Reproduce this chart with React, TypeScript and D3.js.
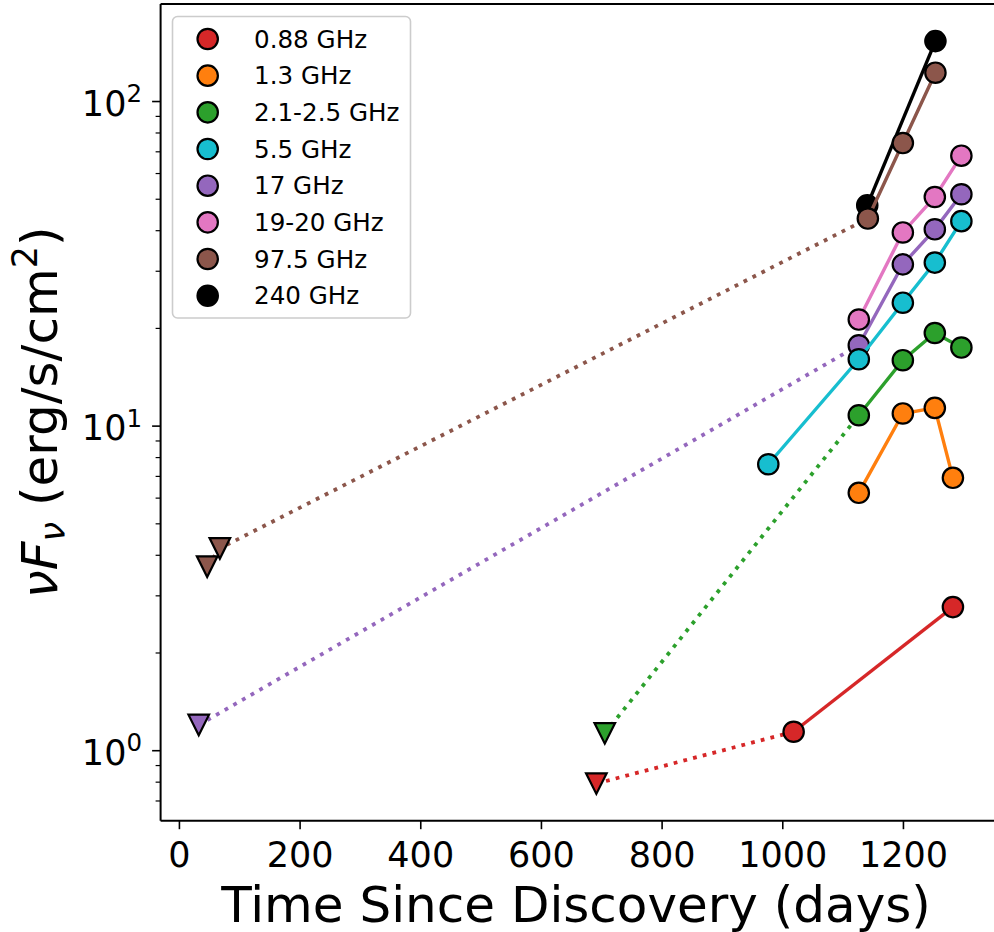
import React from "react";
import * as d3 from "d3";

// ---- data ----
const seriesNames = ["0.88 GHz", "1.3 GHz", "2.1-2.5 GHz", "5.5 GHz", "17 GHz", "19-20 GHz", "97.5 GHz", "240 GHz"];
const seriesColors = ["#d62728", "#ff7f0e", "#2ca02c", "#17becf", "#9467bd", "#e377c2", "#8c564b", "#000000"];

// detections (days, nuFnu)
const redDays = [1018, 1282];
const redVals = [1.144, 2.77];
const orangeDays = [1126, 1199, 1252, 1282];
const orangeVals = [6.23, 10.94, 11.38, 6.93];
const greenDays = [1126, 1199, 1252, 1296];
const greenVals = [10.8, 15.96, 19.36, 17.46];
const cyanDays = [976, 1126, 1199, 1252, 1296];
const cyanVals = [7.63, 16.07, 24.0, 31.9, 42.8];
const purpleDays = [1126, 1199, 1252, 1296];
const purpleVals = [17.75, 31.5, 40.4, 51.8];
const pinkDays = [1126, 1199, 1252, 1296];
const pinkVals = [21.3, 39.5, 50.8, 68.1];
const brownDays = [1141, 1199, 1253];
const brownVals = [43.6, 74.5, 122.7];
const blackDays = [1140, 1253];
const blackVals = [47.9, 153.5];

// upper limits (days, nuFnu)
const redLimDays = [691];
const redLimVals = [0.792];
const greenLimDays = [705];
const greenLimVals = [1.131];
const purpleLimDays = [32];
const purpleLimVals = [1.2];
const brownLimDays = [46, 67];
const brownLimVals = [3.69, 4.2];

const xTicks = [0, 200, 400, 600, 800, 1000, 1200];
const yMajor = [1, 10, 100];
const yExp = ["0", "1", "2"];

type Series = { name: string; color: string; days: number[]; vals: number[]; limDays: number[]; limVals: number[] };
const series: Record<string, Series> = {
  red: { name: seriesNames[0], color: seriesColors[0], days: redDays, vals: redVals, limDays: redLimDays, limVals: redLimVals },
  orange: { name: seriesNames[1], color: seriesColors[1], days: orangeDays, vals: orangeVals, limDays: [], limVals: [] },
  green: { name: seriesNames[2], color: seriesColors[2], days: greenDays, vals: greenVals, limDays: greenLimDays, limVals: greenLimVals },
  cyan: { name: seriesNames[3], color: seriesColors[3], days: cyanDays, vals: cyanVals, limDays: [], limVals: [] },
  purple: { name: seriesNames[4], color: seriesColors[4], days: purpleDays, vals: purpleVals, limDays: purpleLimDays, limVals: purpleLimVals },
  pink: { name: seriesNames[5], color: seriesColors[5], days: pinkDays, vals: pinkVals, limDays: [], limVals: [] },
  brown: { name: seriesNames[6], color: seriesColors[6], days: brownDays, vals: brownVals, limDays: brownLimDays, limVals: brownLimVals },
  black: { name: seriesNames[7], color: seriesColors[7], days: blackDays, vals: blackVals, limDays: [], limVals: [] },
};
const drawOrder = ["red", "orange", "green", "purple", "cyan", "pink", "black", "brown"];

// ---- layout ----
const W = 994, H = 932;
const left = 160.6, right = 999.5, top = 4, bottom = 820.7;

export default function App() {
  const allDays = Object.values(series).flatMap((s) => [...s.days, ...s.limDays]);
  const allVals = Object.values(series).flatMap((s) => [...s.vals, ...s.limVals]);
  const [dMin, dMax] = d3.extent(allDays) as [number, number];
  const dPad = (dMax - dMin) * 0.05;
  const x = d3.scaleLinear().domain([dMin - dPad, dMax + dPad]).range([left, right]);
  const [vMin, vMax] = d3.extent(allVals) as [number, number];
  const lMin = Math.log10(vMin), lMax = Math.log10(vMax);
  const lPad = (lMax - lMin) * 0.05;
  const y = d3.scaleLog().domain([Math.pow(10, lMin - lPad), Math.pow(10, lMax + lPad)]).range([bottom, top]);

  const line = d3.line<[number, number]>().x((d) => x(d[0])).y((d) => y(d[1]));

  const minorTicks: number[] = [];
  for (let e = -1; e <= 2; e++) for (let m = 2; m <= 9; m++) {
    const v = m * Math.pow(10, e);
    if (v >= y.domain()[0] && v <= y.domain()[1]) minorTicks.push(v);
  }

  const tri = (cx: number, cy: number, r = 10.3) => `M${cx - r},${cy - r}L${cx + r},${cy - r}L${cx},${cy + r}Z`;

  const legendRowY = (i: number) => 39 + i * 36.67;

  return (
    <svg width={W} height={H} style={{ display: "block", position: "absolute", left: 0, top: 0 }} fontFamily="DejaVu Sans, sans-serif">
      <rect x={0} y={0} width={W} height={H} fill="white" />
      <defs>
        <clipPath id="plot"><rect x={left} y={top} width={right - left} height={bottom - top} /></clipPath>
      </defs>
      <g clipPath="url(#plot)">
        {drawOrder.map((k) => {
          const s = series[k];
          const det: [number, number][] = s.days.map((d, i) => [d, s.vals[i]]);
          const lim: [number, number][] = s.limDays.map((d, i) => [d, s.limVals[i]]);
          return (
            <g key={k}>
              {lim.length > 0 && (
                <path d={line([...lim, det[0]]) || ""} fill="none" stroke={s.color} strokeWidth={3.8} strokeDasharray="3.8 6.2" />
              )}
              <path d={line(det) || ""} fill="none" stroke={s.color} strokeWidth={3.4} />
              {lim.map((p, i) => (
                <path key={"l" + i} d={tri(x(p[0]), y(p[1]))} fill={s.color} stroke="black" strokeWidth={2.2} strokeLinejoin="miter" />
              ))}
              {det.map((p, i) => (
                <circle key={"c" + i} cx={x(p[0])} cy={y(p[1])} r={10.2} fill={s.color} stroke="black" strokeWidth={2.2} />
              ))}
            </g>
          );
        })}
      </g>

      {/* spines */}
      <g stroke="black" strokeWidth={2} fill="none">
        <line x1={left} y1={top} x2={left} y2={bottom} />
        <line x1={left} y1={bottom} x2={right} y2={bottom} />
        <line x1={left} y1={top} x2={right} y2={top} />
        <line x1={right} y1={top} x2={right} y2={bottom} />
      </g>

      {/* x ticks */}
      {xTicks.map((t) => (
        <g key={t}>
          <line x1={x(t)} x2={x(t)} y1={bottom} y2={bottom + 8.5} stroke="black" strokeWidth={1.6} />
          <text x={x(t)} y={867.3} textAnchor="middle" fontSize={35}>{t}</text>
        </g>
      ))}

      {/* y ticks */}
      {minorTicks.map((t) => (
        <line key={"m" + t} x1={left - 5} x2={left} y1={y(t)} y2={y(t)} stroke="black" strokeWidth={1.2} />
      ))}
      {yMajor.map((t, i) => (
        <g key={t}>
          <line x1={left - 8.5} x2={left} y1={y(t)} y2={y(t)} stroke="black" strokeWidth={1.6} />
          <text x={142} y={y(t) + 14} textAnchor="end" fontSize={35}>
            <tspan>10</tspan>
            <tspan dy={-13.5} fontSize={24.5}>{yExp[i]}</tspan>
          </text>
        </g>
      ))}

      {/* axis labels */}
      <text x={(left + right) / 2 - 4} y={921.5} textAnchor="middle" fontSize={50}>Time Since Discovery (days)</text>
      <text transform={`translate(57, ${(top + bottom) / 2}) rotate(-90)`} textAnchor="middle" fontSize={50}>
        <tspan fontStyle="italic">ν</tspan>
        <tspan fontStyle="italic">F</tspan>
        <tspan fontStyle="italic" fontSize={35} dy={8}>ν</tspan>
        <tspan dy={-8}> (erg/s/cm</tspan>
        <tspan fontSize={35} dy={-20}>2</tspan>
        <tspan dy={20}>)</tspan>
      </text>

      {/* legend */}
      <rect x={172.5} y={16.5} width={238} height={301.5} rx={5} ry={5} fill="white" fillOpacity={0.8} stroke="#cccccc" strokeWidth={1.6} />
      {seriesNames.map((n, i) => (
        <g key={n}>
          <circle cx={207.7} cy={legendRowY(i)} r={10.2} fill={seriesColors[i]} stroke="black" strokeWidth={2.2} />
          <text x={254} y={legendRowY(i) + 8.7} fontSize={24.6}>{n}</text>
        </g>
      ))}
    </svg>
  );
}
